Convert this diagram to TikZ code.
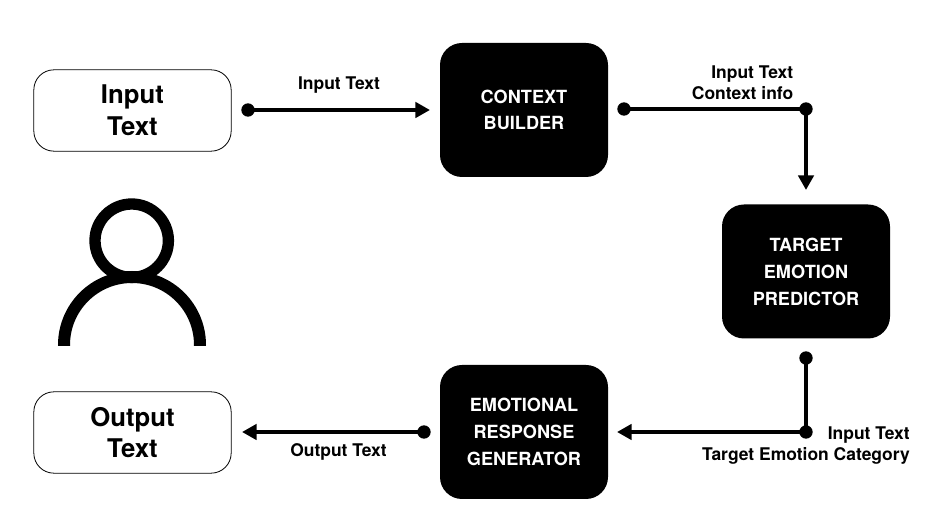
\documentclass[tikz,border=0pt]{standalone}
\usepackage{fontspec}
\setmainfont{TeX Gyre Heros}
\usetikzlibrary{arrows.meta}
\tikzset{x=0.75pt,y=-0.75pt,
 blackbox/.style={draw=none,fill=black,rounded corners=16.5pt,text=white,align=center,font=\bfseries\fontsize{13.6}{20.2}\selectfont,anchor=center},
 whitebox/.style={draw=black,line width=0.6pt,fill=white,rounded corners=15pt,minimum width=148pt,minimum height=61pt,align=center,font=\bfseries\fontsize{19.3}{23.5}\selectfont,text=black},
 conn/.style={line width=3.1pt,-{Triangle[length=11pt,width=11.5pt]}},
 plainconn/.style={line width=3.1pt},
 dot/.style={circle,fill=black,inner sep=0pt,minimum size=10pt},
 lab/.style={font=\bfseries\fontsize{13.1}{15.8}\selectfont,align=center,inner sep=0pt}}
\begin{document}
\begin{tikzpicture}
\useasboundingbox (0,0) rectangle (940,516);
\fill[white] (0,0) rectangle (940,516);
\node[whitebox] (input) at (132.5,110.5) {\raisebox{0.6pt}{Input}\\Text};
\node[whitebox] (output) at (132.5,432.5) {Output\\Text};
\node[blackbox,minimum width=126pt,minimum height=100.5pt] (cb) at (524,110) {\raisebox{-0.3pt}{CONTEXT}\\BUILDER};
\node[blackbox,minimum width=126pt,minimum height=100.5pt] (tep) at (806,271.5) {\raisebox{-1.2pt}{TARGET}\\\raisebox{-1.2pt}{EMOTION}\\\raisebox{-1.2pt}{PREDICTOR}};
\node[blackbox,minimum width=126pt,minimum height=100.5pt] (erg) at (524,432) {EMOTIONAL\\RESPONSE\\GENERATOR};
% person
\draw[line width=8.5pt] (131.7,240.7) circle (36.7);
\begin{scope}
\clip (40,200) rectangle (230,345.7);
\draw[line width=9pt] (132,345) circle (68);
\end{scope}
% connectors
\node[dot] (d1) at (248,110) {};
\coordinate (a1) at (430,110);
\draw[conn] (d1.center) -- (a1);
\node[dot] (d2) at (624,109) {};
\node[dot] (d3) at (806,109) {};
\coordinate (a2) at (806,190);
\draw[plainconn] (d2.center) -- (d3.center);
\draw[conn] (d3.center) -- (a2);
\node[dot] (d4) at (806,358) {};
\node[dot] (d5) at (806,432) {};
\coordinate (a3) at (617,432);
\draw[plainconn] (d4.center) -- (d5.center);
\draw[conn] (d5.center) -- (a3);
\node[dot] (d6) at (424,432) {};
\coordinate (a4) at (242,432);
\draw[conn] (d6.center) -- (a4);
% labels
\node[lab] (l1) at (339,85) {Input Text};
\node[lab,align=right,anchor=east] (l2) at (793.5,82.5) {Input Text\\Context info};
\node[lab,align=right,anchor=east] (l3) at (910,445.5) {Input Text\\Target Emotion Category};
\node[lab] (l4) at (338.5,452) {Output Text};
\end{tikzpicture}
\end{document}
